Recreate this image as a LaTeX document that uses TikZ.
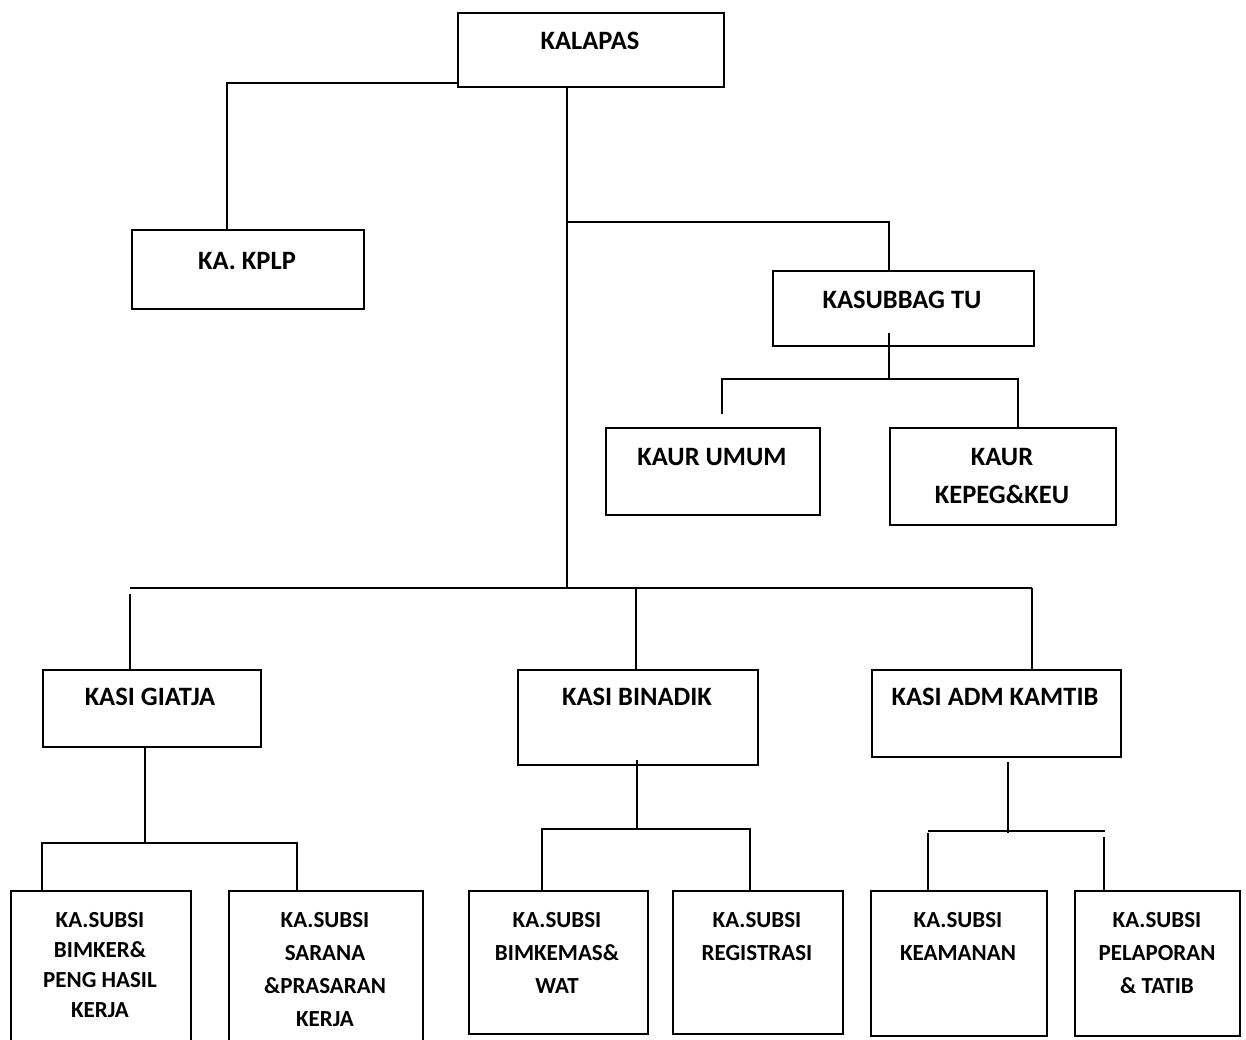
\documentclass[tikz,border=0pt]{standalone}
\usepackage{fontspec}
\setmainfont{Carlito}
\begin{document}
\begin{tikzpicture}[x=1pt, y=-1pt]
\tikzset{ kotak/.style={draw, line width=2pt, anchor=north west, inner sep=0pt},
          teks/.style={anchor=north, inner sep=0pt, align=center, font=\bfseries\fontsize{26.5}{38}\selectfont},
          kecil/.style={font=\bfseries\fontsize{23}{33}\selectfont},
          garis/.style={line width=2pt} }

\clip (0,0) rectangle (1246,1040);
\fill [white] (0,0) rectangle (1246,1040);

% kotak
\node [kotak, minimum width=266, minimum height=74] (kalapas) at (457,12) {};
\node [kotak, minimum width=232, minimum height=79] (kplp) at (131,229) {};
\node [kotak, minimum width=261, minimum height=75] (kasubbag) at (772,270) {};
\node [kotak, minimum width=214, minimum height=87] (umum) at (605,427) {};
\node [kotak, minimum width=226, minimum height=97] (kepeg) at (889,427) {};
\node [kotak, minimum width=218, minimum height=77] (giatja) at (42,669) {};
\node [kotak, minimum width=240, minimum height=95] (binadik) at (517,669) {};
\node [kotak, minimum width=249, minimum height=87] (kamtib) at (871,669) {};
\node [kotak, minimum width=180, minimum height=200] (bimker) at (10,890) {};
\node [kotak, minimum width=194, minimum height=200] (sarana) at (228,890) {};
\node [kotak, minimum width=179, minimum height=143] (bimkemas) at (468,890) {};
\node [kotak, minimum width=170, minimum height=143] (registrasi) at (672,890) {};
\node [kotak, minimum width=176, minimum height=145] (keamanan) at (870,890) {};
\node [kotak, minimum width=165, minimum height=145] (pelaporan) at (1074,890) {};

% teks
\node [teks] (tKalapas) at (590,32) {KALAPAS};
\node [teks] (tKplp) at (247,252) {KA. KPLP};
\node [teks] (tKasubbag) at (902,291) {KASUBBAG TU};
\node [teks] (tUmum) at (712,448) {KAUR UMUM};
\node [teks] (tKepeg) at (1002,448) {KAUR\\KEPEG\&KEU};
\node [teks] (tGiatja) at (150,688) {KASI GIATJA};
\node [teks] (tBinadik) at (637,688) {KASI BINADIK};
\node [teks] (tKamtib) at (995,688) {KASI ADM KAMTIB};
\node [teks, font=\bfseries\fontsize{23}{30}\selectfont] (tBimker) at (100,912) {KA.SUBSI\\BIMKER\&\\PENG HASIL\\KERJA};
\node [teks, kecil] (tSarana) at (325,912) {KA.SUBSI\\SARANA\\\&PRASARAN\\KERJA};
\node [teks, kecil] (tBimkemas) at (557,912) {KA.SUBSI\\BIMKEMAS\&\\WAT};
\node [teks, kecil] (tRegistrasi) at (757,912) {KA.SUBSI\\REGISTRASI};
\node [teks, kecil] (tKeamanan) at (958,912) {KA.SUBSI\\KEAMANAN};
\node [teks, kecil] (tPelaporan) at (1157,912) {KA.SUBSI\\PELAPORAN\\\& TATIB};

% titik cabang
\coordinate (kiriA) at (457,83);
\coordinate (kplpA) at (227,229);
\coordinate (pusat) at (567,86);
\coordinate (pusatB) at (567,588);
\coordinate (cabTU) at (567,222);
\coordinate (tuA) at (889,270);
\coordinate (tuB) at (889,333);
\coordinate (tuC) at (889,379);
\coordinate (umumA) at (722,379);
\coordinate (umumB) at (722,414);
\coordinate (kepegA) at (1018,379);
\coordinate (kepegB) at (1018,427);
\coordinate (kiriB) at (130,588);
\coordinate (kananB) at (1032,588);

\draw [garis] (kiriA) -| (kplpA);
\draw [garis] (pusat) -- (pusatB);
\draw [garis] (cabTU) -| (tuA);
\draw [garis] (tuB) -- (tuC);
\draw [garis] (umumB) -- (umumA) -- (kepegA) -- (kepegB);

\draw [garis] (kiriB) -- (kananB);
\draw [garis] (130,594) -- (giatja.north -| kiriB);
\draw [garis] (636,588) -- (binadik.north -| 636,0);
\draw [garis] (kananB) -- (kamtib.north -| kananB);

% cabang giatja
\coordinate (gA) at (145,843);
\draw [garis] (giatja.south -| gA) -- (gA);
\draw [garis] (bimker.north -| 42,0) |- (gA) -| (sarana.north -| 297,0);

% cabang binadik
\coordinate (bA) at (637,829);
\draw [garis] (637,760) -- (bA);
\draw [garis] (bimkemas.north -| 542,0) |- (bA) -| (registrasi.north -| 750,0);

% cabang kamtib
\coordinate (kA) at (1008,833);
\draw [garis] (1008,762) -- (kA);
\draw [garis] (928,831) -- (1105,831);
\draw [garis] (928,833) -- (keamanan.north -| 928,0);
\draw [garis] (1104,837) -- (pelaporan.north -| 1104,0);
\end{tikzpicture}
\end{document}
